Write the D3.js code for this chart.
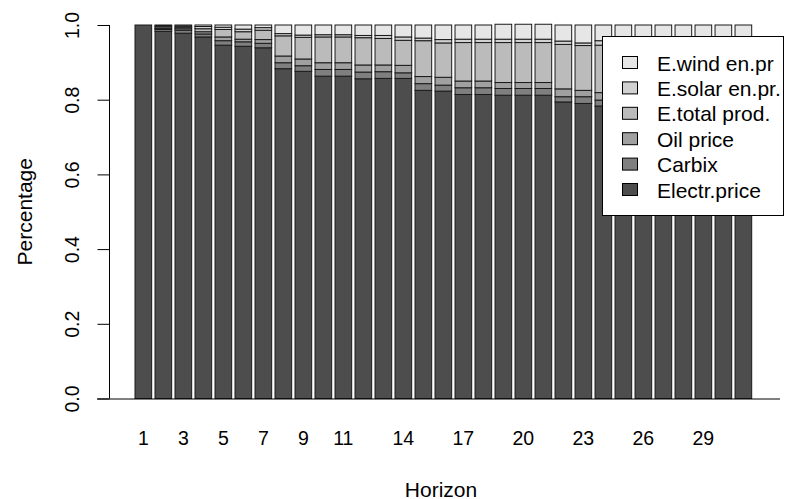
<!DOCTYPE html>
<html>
<head>
<meta charset="utf-8">
<script src="https://cdn.jsdelivr.net/npm/d3@7"></script>
<style>
  body { margin: 0; background: #fff; }
  svg { display: block; font-family: "Liberation Sans", Arial, sans-serif; }
</style>
</head>
<body>
<svg id="chart" width="787" height="499"></svg>
<script>
// horizons 1..31
const horizons = d3.range(1, 32);
const shownLabels = [1, 3, 5, 7, 9, 11, 14, 17, 20, 23, 26, 29];
const seriesNames = ["Electr.price", "Carbix", "Oil price", "E.total prod.", "E.solar en.pr.", "E.wind en.pr"];
const seriesColors = ["#4d4d4d", "#7f7f7f", "#a0a0a0", "#bbbbbb", "#d1d1d1", "#e6e6e6"];
const yTicks = [0, 0.2, 0.4, 0.6, 0.8, 1.0];

// shares, one value per horizon
const electr = [1.000, 0.983, 0.978, 0.968, 0.946, 0.943, 0.939, 0.883, 0.876, 0.863, 0.863,
  0.856, 0.857, 0.857, 0.825, 0.823, 0.814, 0.814, 0.812, 0.812, 0.812, 0.794, 0.790, 0.783,
  0.782, 0.781, 0.780, 0.780, 0.779, 0.779, 0.778];
const carbix = [0, 0.005, 0.008, 0.008, 0.012, 0.012, 0.012, 0.016, 0.015, 0.018, 0.018,
  0.018, 0.018, 0.015, 0.018, 0.016, 0.018, 0.018, 0.018, 0.018, 0.018, 0.014, 0.018, 0.016,
  0.016, 0.016, 0.016, 0.016, 0.016, 0.016, 0.016];
const oil = [0, 0.003, 0.004, 0.006, 0.010, 0.007, 0.010, 0.018, 0.018, 0.018, 0.018,
  0.019, 0.018, 0.020, 0.019, 0.021, 0.018, 0.018, 0.016, 0.016, 0.016, 0.021, 0.017, 0.020,
  0.020, 0.020, 0.020, 0.020, 0.020, 0.020, 0.020];
const totalProd = [0, 0.004, 0.004, 0.008, 0.020, 0.020, 0.025, 0.054, 0.058, 0.069, 0.069,
  0.073, 0.071, 0.067, 0.096, 0.092, 0.103, 0.103, 0.107, 0.107, 0.107, 0.119, 0.120, 0.127,
  0.128, 0.129, 0.130, 0.130, 0.131, 0.131, 0.132];
const solar = [0, 0.003, 0.003, 0.006, 0.006, 0.007, 0.007, 0.006, 0.006, 0.006, 0.006,
  0.006, 0.008, 0.009, 0.007, 0.009, 0.009, 0.009, 0.009, 0.009, 0.009, 0.009, 0.007, 0.012,
  0.012, 0.012, 0.012, 0.012, 0.012, 0.012, 0.012];
const wind = [0, 0.002, 0.003, 0.004, 0.006, 0.011, 0.007, 0.023, 0.027, 0.026, 0.026,
  0.028, 0.028, 0.032, 0.035, 0.039, 0.038, 0.038, 0.040, 0.040, 0.040, 0.043, 0.048, 0.042,
  0.042, 0.042, 0.042, 0.042, 0.042, 0.042, 0.042];

const allSeries = [electr, carbix, oil, totalProd, solar, wind];
const table = horizons.map((h, i) => {
  const row = { h: h };
  seriesNames.forEach((name, k) => { row[name] = allSeries[k][i]; });
  return row;
});

const svg = d3.select("#chart");
const tickFont = 19.5;
const labelFont = 21;

const x = d3.scaleBand()
  .domain(horizons)
  .range([135, 751.7])
  .paddingInner(0.2 / 1.2)
  .paddingOuter(0);

const y = d3.scaleLinear()
  .domain([0, 1])
  .range([398.5, 25]);

const stacked = d3.stack().keys(seriesNames)(table);

svg.append("g")
  .selectAll("g")
  .data(stacked)
  .join("g")
    .attr("fill", (d, i) => seriesColors[i])
  .selectAll("rect")
  .data(d => d)
  .join("rect")
    .attr("x", d => x(d.data.h))
    .attr("width", x.bandwidth())
    .attr("y", d => y(d[1]))
    .attr("height", d => Math.max(0, y(d[0]) - y(d[1])))
    .attr("stroke", "#1a1a1a")
    .attr("stroke-width", 1);

// baseline
svg.append("line")
  .attr("x1", 97).attr("x2", 780)
  .attr("y1", y(0) + 0.5).attr("y2", y(0) + 0.5)
  .attr("stroke", "#000");

// y axis
const yAxis = d3.axisLeft(y)
  .tickValues(yTicks)
  .tickFormat(d3.format(".1f"))
  .tickSize(12)
  .tickPadding(0);

const yg = svg.append("g")
  .attr("transform", "translate(109.5,0)")
  .call(yAxis);
yg.select(".domain").attr("d", `M-0,${y(1)}V${y(0)}`).attr("stroke", "#000");
yg.selectAll(".tick line").attr("stroke", "#000");
yg.selectAll(".tick text")
  .attr("x", null).attr("dy", null)
  .attr("transform", "translate(-38,0) rotate(-90)")
  .attr("text-anchor", "middle")
  .attr("dominant-baseline", "central")
  .attr("fill", "#000")
  .style("font-size", tickFont + "px")
  .style("font-family", "'Liberation Sans', Arial, sans-serif");

// x labels
const xAxis = d3.axisBottom(x)
  .tickValues(shownLabels)
  .tickSize(0)
  .tickPadding(0);
const xg = svg.append("g")
  .attr("transform", "translate(0,438)")
  .call(xAxis);
xg.select(".domain").remove();
xg.selectAll(".tick text")
  .attr("y", 0).attr("dy", null)
  .attr("dominant-baseline", "central")
  .attr("fill", "#000")
  .style("font-size", tickFont + "px")
  .style("font-family", "'Liberation Sans', Arial, sans-serif");

// axis titles
svg.append("text")
  .attr("x", 441).attr("y", 489)
  .attr("text-anchor", "middle")
  .attr("dominant-baseline", "central")
  .style("font-size", labelFont + "px")
  .text("Horizon");

svg.append("text")
  .attr("transform", `translate(24,${(y(0) + y(1)) / 2}) rotate(-90)`)
  .attr("text-anchor", "middle")
  .attr("dominant-baseline", "central")
  .style("font-size", labelFont + "px")
  .text("Percentage");

// legend
const legend = svg.append("g");
legend.append("rect")
  .attr("x", 602.5).attr("y", 36.5)
  .attr("width", 181).attr("height", 179)
  .attr("fill", "#fff")
  .attr("stroke", "#000");

const legendOrder = d3.range(seriesNames.length).reverse();
const rowY = d3.scalePoint()
  .domain(legendOrder)
  .range([63, 190]);

const items = legend.selectAll("g.item")
  .data(legendOrder)
  .join("g")
    .attr("class", "item")
    .attr("transform", k => `translate(0,${rowY(k)})`);

items.append("rect")
  .attr("x", 622.5).attr("y", -6.5)
  .attr("width", 15).attr("height", 12)
  .attr("fill", k => seriesColors[k])
  .attr("stroke", "#000");

items.append("text")
  .attr("x", 657)
  .attr("y", 0)
  .attr("dominant-baseline", "central")
  .style("font-size", labelFont + "px")
  .text(k => seriesNames[k]);
</script>
</body>
</html>
